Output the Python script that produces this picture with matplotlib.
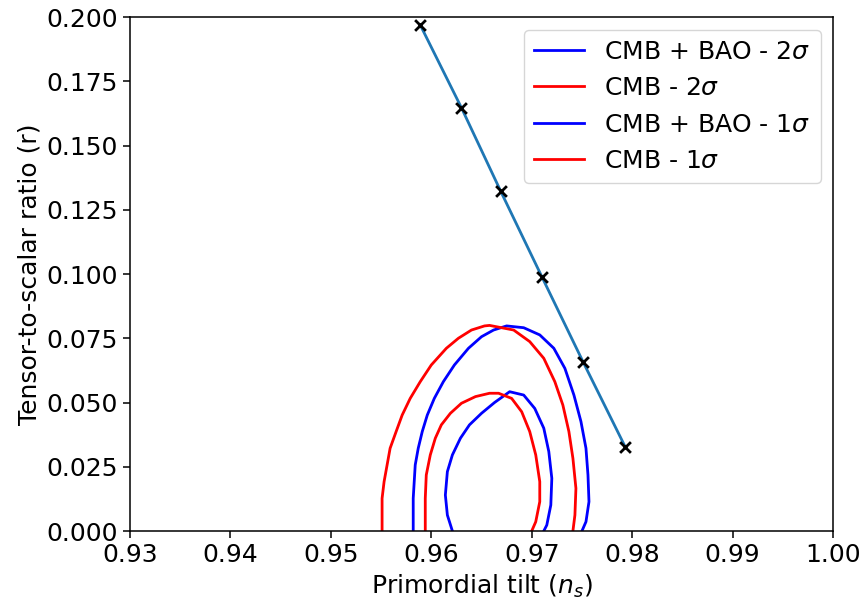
import numpy as np
import matplotlib.pyplot as plt

# inflation model predictions (ns, r)
model_ns = [0.9589, 0.9630, 0.9669, 0.9710, 0.9751, 0.9793]
model_r = [0.1969, 0.1647, 0.1323, 0.0990, 0.0659, 0.0328]

# contour outlines (ns, r)
bao_2s_ns = [0.9582, 0.9582, 0.9584, 0.9587, 0.9591, 0.9596, 0.9603, 0.9612, 0.9623,
             0.9637, 0.9650, 0.9662, 0.9675, 0.9692, 0.9708, 0.9722, 0.9733, 0.9742,
             0.9749, 0.9754, 0.9756, 0.9757, 0.9754, 0.9750]
bao_2s_r = [0.0, 0.0127, 0.0257, 0.0322, 0.0387, 0.0451, 0.0516, 0.0581, 0.0646,
            0.0711, 0.0756, 0.0782, 0.0798, 0.0791, 0.0763, 0.0711, 0.0633, 0.0529,
            0.0426, 0.0322, 0.0218, 0.0114, 0.0036, 0.0]

cmb_2s_ns = [0.9551, 0.9551, 0.9551, 0.9553, 0.9556, 0.9559, 0.9565, 0.9571, 0.9579,
             0.9589, 0.9600, 0.9615, 0.9627, 0.9640, 0.9653, 0.9658, 0.9682, 0.9698,
             0.9712, 0.9723, 0.9731, 0.9737, 0.9741, 0.9744, 0.9743, 0.9741]
cmb_2s_r = [0.0, 0.0062, 0.0127, 0.0192, 0.0257, 0.0322, 0.0387, 0.0451, 0.0516,
            0.0581, 0.0646, 0.0711, 0.0750, 0.0782, 0.0798, 0.0800, 0.0782, 0.0737,
            0.0672, 0.0581, 0.0490, 0.0387, 0.0283, 0.0166, 0.0062, 0.0]

bao_1s_ns = [0.9621, 0.9616, 0.9614, 0.9616, 0.9621, 0.9629, 0.9638, 0.9650, 0.9663,
             0.9678, 0.9692, 0.9703, 0.9712, 0.9717, 0.9720, 0.9719, 0.9715, 0.9712]
bao_1s_r = [0.0, 0.0062, 0.0140, 0.0231, 0.0296, 0.0361, 0.0413, 0.0458, 0.0500,
            0.0542, 0.0529, 0.0477, 0.0400, 0.0309, 0.0205, 0.0101, 0.0023, 0.0]

cmb_1s_ns = [0.9594, 0.9594, 0.9595, 0.9599, 0.9604, 0.9610, 0.9619, 0.9630, 0.9644,
             0.9658, 0.9667, 0.9680, 0.9690, 0.9698, 0.9704, 0.9708, 0.9708, 0.9704, 0.9700]
cmb_1s_r = [0.0, 0.0127, 0.0218, 0.0296, 0.0361, 0.0413, 0.0458, 0.0497, 0.0523,
            0.0536, 0.0536, 0.0516, 0.0464, 0.0387, 0.0296, 0.0192, 0.0114, 0.0036, 0.0]

plt.rcParams['font.size'] = 18

fig = plt.figure(figsize=(8.62, 6.03), dpi=100)
ax = fig.add_axes([0.1508, 0.1194, 0.8156, 0.8524])

lw = 2.0
ax.plot(bao_2s_ns, bao_2s_r, color='blue', lw=lw, label=r'CMB + BAO - 2$\sigma$')
ax.plot(cmb_2s_ns, cmb_2s_r, color='red', lw=lw, label=r'CMB - 2$\sigma$')
ax.plot(bao_1s_ns, bao_1s_r, color='blue', lw=lw, label=r'CMB + BAO - 1$\sigma$')
ax.plot(cmb_1s_ns, cmb_1s_r, color='red', lw=lw, label=r'CMB - 1$\sigma$')

ax.plot(model_ns, model_r, color='#1f77b4', lw=lw)
ax.scatter(model_ns, model_r, marker='x', color='black', s=60, linewidths=2, zorder=3)

ax.set_xlim(0.93, 1.00)
ax.set_ylim(0, 0.2)
ax.set_xticks(np.arange(0.93, 1.001, 0.01))
ax.set_xticklabels([f'{v:.2f}' for v in np.arange(0.93, 1.001, 0.01)])
ax.set_yticks(np.arange(0, 0.2001, 0.025))
ax.set_yticklabels([f'{v:.3f}' for v in np.arange(0, 0.2001, 0.025)])
ax.tick_params(length=5, width=1.1)
for s in ax.spines.values():
    s.set_linewidth(1.1)

ax.set_xlabel(r'Primordial tilt ($n_s$)')
ax.set_ylabel('Tensor-to-scalar ratio (r)')
ax.legend(loc='upper right')

fig.savefig('out.png', dpi=100)
